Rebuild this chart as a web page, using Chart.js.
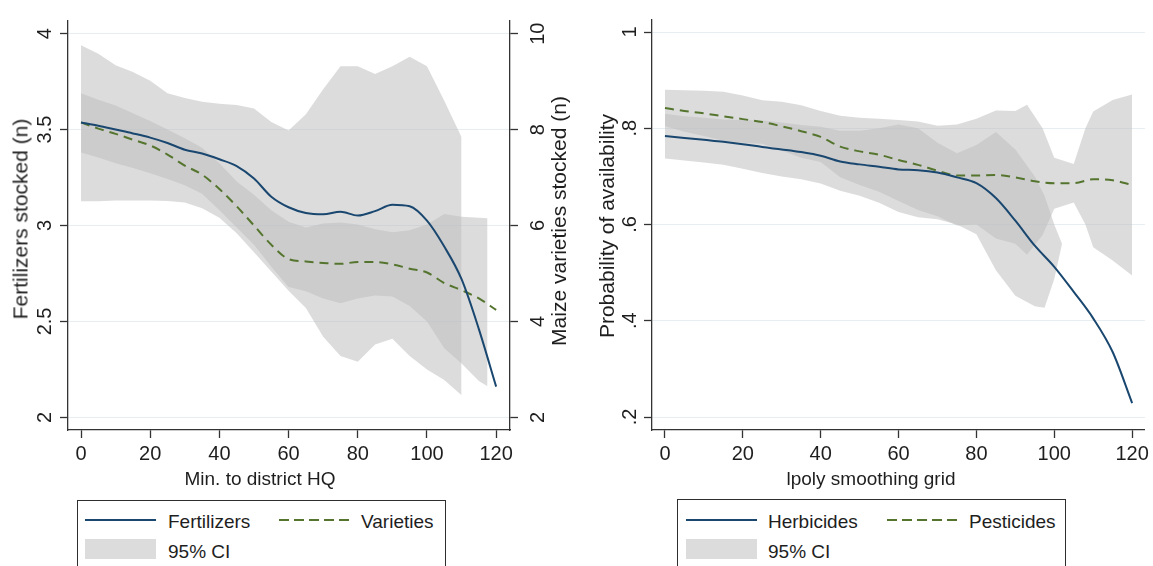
<!DOCTYPE html>
<html>
<head>
<meta charset="utf-8">
<script src="https://cdn.jsdelivr.net/npm/chart.js@4.4.1/dist/chart.umd.min.js"></script>
<style>
body { margin: 0; background: #fff; }
#page { position: relative; width: 1153px; height: 566px; overflow: hidden; font-family: 'Liberation Sans', Arial, sans-serif; color: #1e1e1e; }
#page canvas { position: absolute; top: 0; }
.title { position: absolute; white-space: nowrap; line-height: 1; transform: translate(-50%, -50%); }
.vtitle { transform: translate(-50%, -50%) rotate(-90deg); font-size: 21px; }
.htitle { font-size: 19px; }
.legend { position: absolute; border: 1px solid #2e2e2e; height: 120px; box-sizing: border-box; }
.legend .txt { position: absolute; font-size: 19px; line-height: 1; transform: translateY(-50%); white-space: nowrap; }
.legend .solid { position: absolute; height: 2px; width: 71px; transform: translateY(-50%); }
.legend svg { position: absolute; }
.legend .ci { position: absolute; width: 71px; height: 20px; background: #dcdcdc; }
</style>
</head>
<body>
<div id="page">
  <canvas id="leftChart" width="580" height="470" style="left:0"></canvas>
  <canvas id="rightChart" width="573" height="470" style="left:580px"></canvas>

  <div class="title vtitle" style="left:20px; top:219px">Fertilizers stocked (n)</div>
  <div class="title vtitle" style="left:558px; top:221px">Maize varieties stocked (n)</div>
  <div class="title htitle" style="left:260px; top:478px">Min. to district HQ</div>
  <div class="title vtitle" style="left:606px; top:226px">Probability of availability</div>
  <div class="title htitle" style="left:871px; top:478px">lpoly smoothing grid</div>

  <div class="legend" style="left:77px; top:500px; width:369px">
    <div class="solid" style="left:7px; top:19px; background:#1a476f"></div>
    <div class="txt" style="left:90px; top:20px">Fertilizers</div>
    <svg style="left:201px; top:17px" width="71" height="4"><line x1="0" y1="2" x2="71" y2="2" stroke="#55752f" stroke-width="2" stroke-dasharray="10 5"/></svg>
    <div class="txt" style="left:283px; top:20px">Varieties</div>
    <div class="ci" style="left:7px; top:38px"></div>
    <div class="txt" style="left:90px; top:50px">95% CI</div>
  </div>

  <div class="legend" style="left:677px; top:499px; width:389px">
    <div class="solid" style="left:8px; top:20px; background:#1a476f"></div>
    <div class="txt" style="left:90px; top:21px">Herbicides</div>
    <svg style="left:209px; top:18px" width="71" height="4"><line x1="0" y1="2" x2="71" y2="2" stroke="#55752f" stroke-width="2" stroke-dasharray="10 5"/></svg>
    <div class="txt" style="left:291px; top:21px">Pesticides</div>
    <div class="ci" style="left:8px; top:39px"></div>
    <div class="txt" style="left:90px; top:51px">95% CI</div>
  </div>
</div>

<script>
// left panel: minutes to district HQ
const minutes = [0, 5, 10, 15, 20, 25, 30, 35, 40, 45, 50, 55, 60, 65, 70, 75, 80, 85, 90, 95, 100, 105, 110, 115, 120];
const fertilizers = [3.537, 3.52, 3.50, 3.48, 3.458, 3.43, 3.395, 3.375, 3.345, 3.31, 3.245, 3.15, 3.095, 3.065, 3.058, 3.072, 3.052, 3.075, 3.108, 3.10, 3.025, 2.89, 2.72, 2.46, 2.16];
const varieties = [8.15, 8.02, 7.91, 7.79, 7.67, 7.48, 7.25, 7.06, 6.76, 6.40, 6.00, 5.60, 5.30, 5.25, 5.22, 5.20, 5.24, 5.24, 5.19, 5.10, 5.02, 4.80, 4.65, 4.48, 4.24];

const fertCiX = [0, 5, 10, 15, 20, 25, 30, 35, 40, 45, 50, 55, 60, 65, 70, 75, 80, 85, 90, 95, 100, 105, 110];
const fertCiHigh = [3.94, 3.895, 3.835, 3.80, 3.755, 3.69, 3.665, 3.645, 3.635, 3.628, 3.61, 3.54, 3.495, 3.58, 3.71, 3.83, 3.83, 3.79, 3.83, 3.88, 3.83, 3.65, 3.46];
const fertCiLow = [3.127, 3.127, 3.13, 3.13, 3.13, 3.128, 3.12, 3.09, 3.04, 2.96, 2.86, 2.76, 2.66, 2.57, 2.42, 2.32, 2.29, 2.38, 2.41, 2.32, 2.25, 2.195, 2.115];

const varCiX = [0, 5, 10, 15, 20, 25, 30, 35, 40, 45, 50, 55, 60, 65, 70, 75, 80, 85, 90, 95, 100, 105, 110, 115, 117.5];
const varCiHigh = [8.76, 8.62, 8.50, 8.34, 8.18, 8.00, 7.82, 7.62, 7.30, 6.92, 6.64, 6.32, 6.08, 5.96, 6.04, 6.06, 6.02, 5.92, 5.86, 5.90, 6.02, 6.24, 6.18, 6.16, 6.15];
const varCiLow = [7.52, 7.42, 7.30, 7.20, 7.09, 6.97, 6.84, 6.66, 6.32, 5.96, 5.60, 5.14, 4.72, 4.63, 4.48, 4.38, 4.48, 4.54, 4.52, 4.32, 4.00, 3.44, 3.12, 2.76, 2.65];

const minuteTicks = [0, 20, 40, 60, 80, 100, 120];
const fertTicks = [2, 2.5, 3, 3.5, 4];
const varTicks = [2, 4, 6, 8, 10];

// right panel: lpoly smoothing grid
const grid = [0, 5, 10, 15, 20, 25, 30, 35, 40, 45, 50, 55, 60, 65, 70, 75, 80, 85, 90, 95, 100, 105, 110, 115, 120];
const herbicides = [0.784, 0.780, 0.776, 0.772, 0.767, 0.761, 0.756, 0.7505, 0.743, 0.731, 0.725, 0.720, 0.7145, 0.713, 0.708, 0.698, 0.686, 0.655, 0.608, 0.556, 0.512, 0.460, 0.405, 0.335, 0.229];
const pesticides = [0.842, 0.836, 0.831, 0.825, 0.819, 0.813, 0.804, 0.794, 0.782, 0.762, 0.752, 0.745, 0.734, 0.724, 0.712, 0.702, 0.702, 0.703, 0.698, 0.690, 0.686, 0.686, 0.694, 0.692, 0.682];

const herbCiX = [0, 5, 10, 15, 20, 25, 30, 35, 40, 45, 50, 55, 60, 65, 70, 75, 80, 85, 90, 95, 97.5, 100, 102];
const herbCiHigh = [0.830, 0.825, 0.822, 0.818, 0.817, 0.816, 0.812, 0.807, 0.803, 0.795, 0.795, 0.800, 0.808, 0.800, 0.770, 0.748, 0.765, 0.792, 0.756, 0.700, 0.660, 0.600, 0.560];
const herbCiLow = [0.737, 0.733, 0.729, 0.724, 0.716, 0.707, 0.700, 0.694, 0.685, 0.670, 0.660, 0.645, 0.626, 0.615, 0.611, 0.600, 0.580, 0.505, 0.452, 0.430, 0.427, 0.487, 0.560];

const pestCiX = [0, 5, 10, 15, 20, 25, 30, 35, 40, 45, 50, 55, 60, 65, 70, 75, 80, 85, 90, 93, 97, 100, 105, 108, 110, 115, 120];
const pestCiHigh = [0.880, 0.879, 0.878, 0.876, 0.868, 0.858, 0.855, 0.848, 0.836, 0.826, 0.822, 0.820, 0.817, 0.814, 0.805, 0.808, 0.820, 0.837, 0.836, 0.849, 0.800, 0.739, 0.726, 0.800, 0.835, 0.859, 0.870];
const pestCiLow = [0.804, 0.793, 0.784, 0.774, 0.770, 0.768, 0.754, 0.739, 0.730, 0.698, 0.682, 0.668, 0.649, 0.630, 0.617, 0.598, 0.600, 0.571, 0.560, 0.537, 0.578, 0.633, 0.646, 0.600, 0.553, 0.525, 0.494];

const gridTicks = [0, 20, 40, 60, 80, 100, 120];
const probTicks = [0.2, 0.4, 0.6, 0.8, 1];

const navy = '#1a476f';
const green = '#55752f';
const ciFill = 'rgba(190, 190, 190, 0.54)';
const axisColor = '#333333';
const gridColor = '#e6eef1';

Chart.defaults.font.family = "'Liberation Sans', Arial, sans-serif";
Chart.defaults.color = '#1e1e1e';

function points(xs, ys) {
    return xs.map(function (x, i) { return {x: x, y: ys[i]}; });
}

function lineSet(xs, ys, color, axis, dash) {
    return {
        data: points(xs, ys), yAxisID: axis, borderColor: color, borderWidth: 2,
        borderDash: dash || [], pointRadius: 0, fill: false,
        cubicInterpolationMode: 'monotone', order: 0
    };
}

function bandSets(xs, hi, lo, axis) {
    return [
        {data: points(xs, hi), yAxisID: axis, borderColor: 'transparent', borderWidth: 0,
         pointRadius: 0, backgroundColor: ciFill, fill: '+1', order: 1},
        {data: points(xs, lo), yAxisID: axis, borderColor: 'transparent', borderWidth: 0,
         pointRadius: 0, fill: false, order: 1}
    ];
}

function xAxis(min, max, ticks) {
    return {
        type: 'linear', position: 'bottom', min: min, max: max,
        afterBuildTicks: function (scale) { scale.ticks = ticks.map(function (v) { return {value: v}; }); },
        afterFit: function (scale) { scale.height = 40; },
        ticks: {font: {size: 20}, padding: 4, minRotation: 0, maxRotation: 0, autoSkip: false},
        grid: {drawOnChartArea: false, tickLength: 8, tickColor: axisColor, tickWidth: 1.3},
        border: {color: axisColor, width: 1.3}
    };
}

function yAxis(position, min, max, ticks, width, pad, onChart, fmt) {
    return {
        type: 'linear', position: position, min: min, max: max,
        afterBuildTicks: function (scale) { scale.ticks = ticks.map(function (v) { return {value: v}; }); },
        afterFit: function (scale) { scale.width = width; },
        ticks: {font: {size: 20}, padding: pad, minRotation: 90, maxRotation: 90,
                crossAlign: 'center', autoSkip: false, callback: fmt},
        grid: {drawOnChartArea: onChart, color: gridColor, lineWidth: 1,
               tickLength: 8, tickColor: axisColor, tickWidth: 1.3},
        border: {color: axisColor, width: 1.3}
    };
}

function plain(v) { return String(v); }
function noLeadingZero(v) { return String(v).replace(/^0\./, '.'); }

const commonOptions = {
    responsive: false,
    animation: false,
    plugins: {legend: {display: false}, tooltip: {enabled: false}}
};

new Chart(document.getElementById('leftChart').getContext('2d'), {
    type: 'line',
    data: {
        datasets: [
            lineSet(minutes, fertilizers, navy, 'y'),
            lineSet(minutes, varieties, green, 'y2', [9, 6])
        ].concat(bandSets(fertCiX, fertCiHigh, fertCiLow, 'y'))
         .concat(bandSets(varCiX, varCiHigh, varCiLow, 'y2'))
    },
    options: Object.assign({}, commonOptions, {
        layout: {padding: {top: 10, left: 0, right: 0, bottom: 0}},
        scales: {
            x: xAxis(-3.76, 124, minuteTicks),
            y: yAxis('left', 1.934, 4.066, fertTicks, 68, 1, true, plain),
            y2: yAxis('right', 1.736, 10.264, varTicks, 70, 9, false, plain)
        }
    })
});

new Chart(document.getElementById('rightChart').getContext('2d'), {
    type: 'line',
    data: {
        datasets: [
            lineSet(grid, herbicides, navy, 'y'),
            lineSet(grid, pesticides, green, 'y', [9, 6])
        ].concat(bandSets(herbCiX, herbCiHigh, herbCiLow, 'y'))
         .concat(bandSets(pestCiX, pestCiHigh, pestCiLow, 'y'))
    },
    options: Object.assign({}, commonOptions, {
        layout: {padding: {top: 20, left: 0, right: 7, bottom: 0}},
        scales: {
            x: xAxis(-3.33, 123.3, gridTicks),
            y: yAxis('left', 0.173, 1.025, probTicks, 72, 5, true, noLeadingZero)
        }
    })
});
</script>
</body>
</html>
